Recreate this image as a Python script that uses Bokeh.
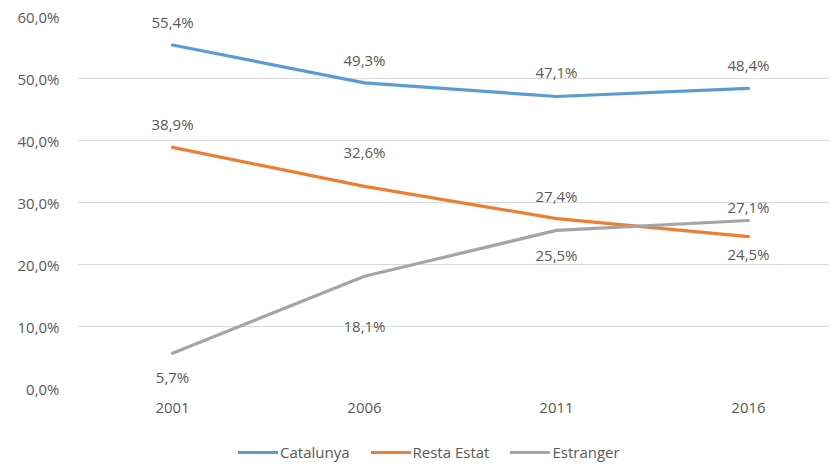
from bokeh.plotting import figure
from bokeh.layouts import column
from bokeh.models import ColumnDataSource, Legend, LegendItem, FixedTicker, Range1d, CustomJSTickFormatter
from bokeh.core.properties import value
from bokeh.embed import file_html
from bokeh.resources import INLINE

# ---- data ----
years = ["2001", "2006", "2011", "2016"]
catalunya = [55.4, 49.3, 47.1, 48.4]
resta_estat = [38.9, 32.6, 27.4, 24.5]
estranger = [5.7, 18.1, 25.5, 27.1]
y_ticks = [0, 10, 20, 30, 40, 50, 60]
series_names = ["Catalunya", "Resta Estat", "Estranger"]

# ---- style ----
colors = ["#5B9BD5", "#ED7D31", "#A5A5A5"]
label_offsets = [
    [-23, -23, -24, -23],
    [-23, -34, -23, 17],
    [24, 50, 25, -13],
]
FONT = "Open Sans"
TXT = "#595959"
LW = 3.2

xs = list(range(len(years)))
series = [catalunya, resta_estat, estranger]

p = figure(width=829, height=420, output_backend="svg", toolbar_location=None,
           x_range=Range1d(-0.495, 3.422), y_range=Range1d(0, 60),
           min_border_left=77, min_border_right=0, min_border_top=16, min_border_bottom=32)
p.outline_line_color = None
p.background_fill_color = "white"
p.border_fill_color = "white"

p.xgrid.grid_line_color = None
p.ygrid.grid_line_color = "#D9D9D9"
p.ygrid.grid_line_width = 1
p.ygrid.ticker = FixedTicker(ticks=y_ticks)

p.yaxis.ticker = FixedTicker(ticks=y_ticks)
p.yaxis.formatter = CustomJSTickFormatter(code="return tick.toFixed(1).replace('.', ',') + '%';")
p.yaxis.axis_line_color = None
p.yaxis.major_tick_line_color = None
p.yaxis.minor_tick_line_color = None
p.yaxis.major_label_standoff = 12

p.xaxis.ticker = FixedTicker(ticks=xs)
p.xaxis.major_label_overrides = {i: y for i, y in zip(xs, years)}
p.xaxis.axis_line_color = None
p.xaxis.major_tick_line_color = None
p.xaxis.minor_tick_line_color = None
p.xaxis.major_label_standoff = 8

for ax in (p.xaxis, p.yaxis):
    ax.major_label_text_font = FONT
    ax.major_label_text_font_size = "15px"
    ax.major_label_text_color = TXT

for name, vals, col, offs in zip(series_names, series, colors, label_offsets):
    src = ColumnDataSource(dict(
        x=xs, y=vals,
        lbl=[("%.1f" % v).replace(".", ",") + "%" for v in vals],
        off=offs,
    ))
    p.line("x", "y", source=src, line_color=col, line_width=LW,
           line_cap="round", line_join="round")
    p.text("x", "y", text="lbl", source=src, y_offset="off",
           text_align="center", text_baseline="middle",
           text_font=value(FONT), text_font_size="15px", text_color=TXT)

# ---- legend strip (its own small figure, frame aligned with the chart) ----
pl = figure(width=829, height=44, output_backend="svg", toolbar_location=None,
            x_range=Range1d(-0.495, 3.422), y_range=Range1d(-200, -100),
            x_axis_type=None, y_axis_type=None,
            min_border_left=77, min_border_right=0, min_border_top=0, min_border_bottom=0)
pl.outline_line_color = None
pl.xgrid.grid_line_color = None
pl.ygrid.grid_line_color = None
pl.border_fill_color = "white"

items = []
for name, vals, col in zip(series_names, series, colors):
    # same series, drawn outside the strip's visible range: only the legend swatch shows
    r = pl.line(x=xs, y=vals, line_color=col, line_width=LW, line_cap="round")
    items.append(LegendItem(label=name, renderers=[r]))

legend = Legend(items=items, orientation="horizontal", location=(161, 2),
                label_text_font=FONT, label_text_font_size="15px", label_text_color=TXT,
                glyph_width=40, glyph_height=18, label_height=18, label_standoff=2,
                spacing=21, padding=0, margin=0,
                border_line_color=None, background_fill_alpha=0)
pl.add_layout(legend, "center")

layout = column(p, pl, spacing=0)
open("out.html", "w").write(file_html(layout, INLINE))
